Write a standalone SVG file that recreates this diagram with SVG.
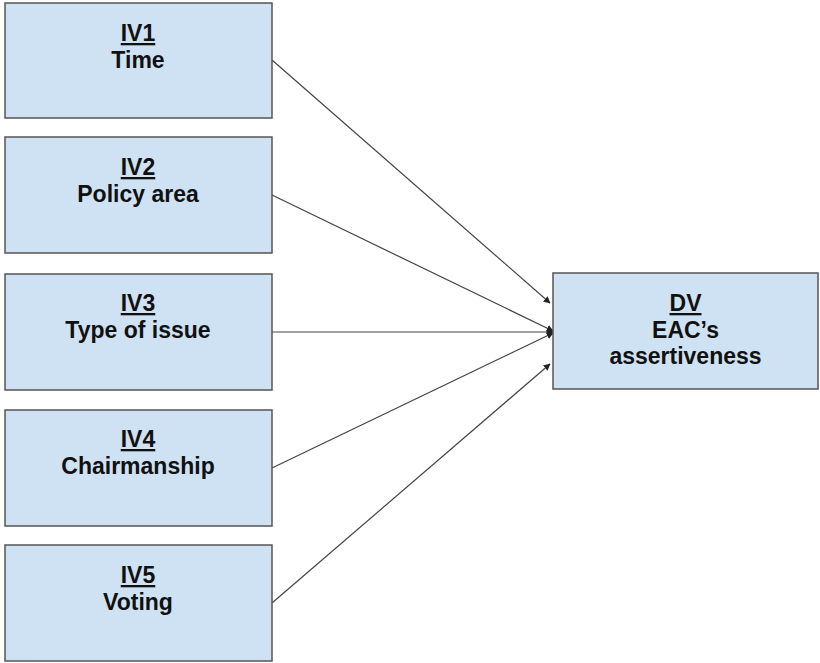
<svg xmlns="http://www.w3.org/2000/svg" width="820" height="663" viewBox="0 0 820 663">
<style>
.box{fill:#cfe2f3;stroke:#555;stroke-width:1.5}
.t{font-family:"Liberation Sans",Arial,sans-serif;font-weight:bold;font-size:23px;fill:#111;text-anchor:middle}
.u{text-decoration:underline}
.c{stroke:#444;stroke-width:1.2;fill:none;marker-end:url(#ah)}
</style>
<defs>
<marker id="ah" viewBox="0 0 10 10" refX="9" refY="5" markerWidth="7" markerHeight="7" markerUnits="userSpaceOnUse" orient="auto">
<path d="M0,0 L10,5 L0,10 z" fill="#222"/>
</marker>
</defs>
<rect width="820" height="663" fill="#fff"/>
<g id="connectors">
<line class="c" x1="272" y1="60" x2="550" y2="303"/>
<line class="c" x1="272" y1="195" x2="553" y2="331"/>
<line class="c" x1="272" y1="332" x2="553" y2="332"/>
<line class="c" x1="272" y1="468" x2="553" y2="333"/>
<line class="c" x1="272" y1="603" x2="550" y2="364"/>
</g>
<g id="iv1">
<rect class="box" x="5" y="3" width="267" height="115"/>
<text class="t u" x="138" y="41">IV1</text>
<text class="t" x="138" y="68">Time</text>
</g>
<g id="iv2">
<rect class="box" x="5" y="137" width="267" height="116"/>
<text class="t u" x="138" y="175">IV2</text>
<text class="t" x="138" y="202">Policy area</text>
</g>
<g id="iv3">
<rect class="box" x="5" y="274" width="267" height="116"/>
<text class="t u" x="138" y="311">IV3</text>
<text class="t" x="138" y="338">Type of issue</text>
</g>
<g id="iv4">
<rect class="box" x="5" y="410" width="267" height="116"/>
<text class="t u" x="138" y="447">IV4</text>
<text class="t" x="138" y="474">Chairmanship</text>
</g>
<g id="iv5">
<rect class="box" x="5" y="545" width="267" height="116"/>
<text class="t u" x="138" y="583">IV5</text>
<text class="t" x="138" y="610">Voting</text>
</g>
<g id="dv">
<rect class="box" x="553" y="273" width="265" height="116"/>
<text class="t u" x="685.5" y="311">DV</text>
<text class="t" x="685.5" y="338">EAC’s</text>
<text class="t" x="685.5" y="364">assertiveness</text>
</g>
</svg>
